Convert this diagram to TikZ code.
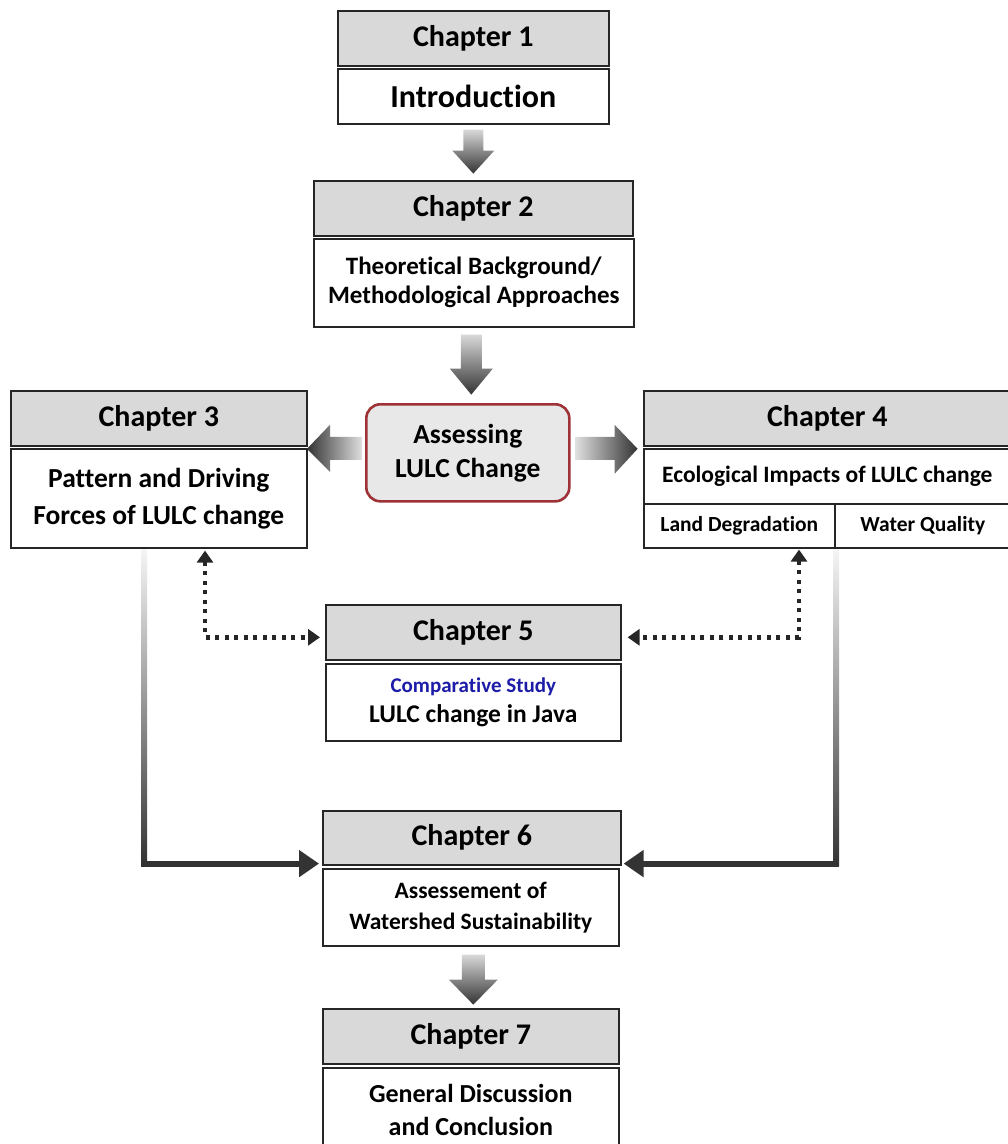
\documentclass[tikz,border=0pt]{standalone}
\usepackage{fontspec}
\setmainfont{Carlito}[Ligatures=NoCommon]
\usetikzlibrary{arrows.meta,calc}

\definecolor{headgray}{HTML}{D9D9D9}
\definecolor{framered}{HTML}{9E3236}
\definecolor{studyblue}{HTML}{1C1CA8}

\newcommand{\chapfont}{\bfseries\fontsize{30}{34}\selectfont}

\tikzset{
  head/.style={draw=black!85, line width=1.6pt, fill=headgray, anchor=north west, inner sep=0pt, font=\chapfont},
  body/.style={draw=black!85, line width=1.6pt, fill=white, anchor=north west, inner sep=0pt, align=center},
  downarrow/.style={top color=gray!30, bottom color=black!80, draw=none},
  dotline/.style={line width=4.5pt, black!85, dash pattern=on 4pt off 5.5pt, {Triangle[length=12pt,width=16pt]}-{Triangle[length=12pt,width=16pt]}},
  feedline/.style={line width=6pt, black!80, -{Triangle[length=20pt,width=26pt]}}
}

\begin{document}
\begin{tikzpicture}[x=1pt, y=-1pt]
    \useasboundingbox (0,0) rectangle (1008,1144);

    % chapter boxes
    \node[head, minimum width=271, minimum height=55] (ch1) at (337,10) {Chapter 1};
    \node[body, minimum width=271, minimum height=55, font=\bfseries\fontsize{32}{36}\selectfont] (intro) at (337,68) {Introduction};

    \node[head, minimum width=319, minimum height=55] (ch2) at (313,180) {Chapter 2};
    \node[body, minimum width=320, minimum height=88, font=\bfseries\fontsize{25}{29}\selectfont] (theory) at (313,238) {Theoretical Background/\\Methodological Approaches};

    \node[head, minimum width=296, minimum height=55] (ch3) at (10,390) {Chapter 3};
    \node[body, minimum width=296, minimum height=99, font=\bfseries\fontsize{27.5}{37}\selectfont] (pattern) at (10,448) {Pattern and Driving\\Forces of LULC change};

    \node[draw=framered, line width=2.6pt, fill=gray!18, rounded corners=14pt, anchor=north west, inner sep=0pt, align=center,
          minimum width=203, minimum height=97, font=\bfseries\fontsize{27.5}{34}\selectfont] (assess) at (365,403) {Assessing\\LULC Change};

    \node[head, minimum width=367, minimum height=55] (ch4) at (643,390) {Chapter 4};
    \node[body, minimum width=367, minimum height=55, font=\bfseries\fontsize{23.5}{26}\selectfont] (eco) at (643,448) {Ecological Impacts of LULC change};
    \node[body, minimum width=191, minimum height=44, font=\bfseries\fontsize{21.5}{24}\selectfont] (land) at (643,503) {Land Degradation};
    \node[body, minimum width=176, minimum height=44, font=\bfseries\fontsize{21.5}{24}\selectfont] (water) at (834,503) {Water Quality};

    \node[head, minimum width=295, minimum height=55] (ch5) at (325,604) {Chapter 5};
    \node[body, minimum width=295, minimum height=77, font=\bfseries\fontsize{25.5}{30}\selectfont] (java) at (325,663)
        {{\fontsize{21}{24}\selectfont\color{studyblue}Comparative Study}\\LULC change in Java};

    \node[head, minimum width=298, minimum height=54] (ch6) at (322,810) {Chapter 6};
    \node[body, minimum width=296, minimum height=77, font=\bfseries\fontsize{23.5}{31}\selectfont] (shed) at (322,868) {Assessement of\\Watershed Sustainability};

    \node[head, minimum width=296, minimum height=55] (ch7) at (322,1008) {Chapter 7};
    \node[body, minimum width=296, minimum height=84, font=\bfseries\fontsize{26}{33}\selectfont] (concl) at (322,1067) {General Discussion\\and Conclusion};

    % block arrows
    \shade[downarrow] ($(intro.south)+(-10,5)$) -- ++(20,0) -- ++(0,21) -- ++(11,0) -- ++(-21,23) -- ++(-21,-23) -- ++(11,0) -- cycle;
    \shade[downarrow] ($(theory.south)+(-13,7)$) -- ++(21,0) -- ++(0,34) -- ++(11,0) -- ++(-21.5,26) -- ++(-21.5,-26) -- ++(11,0) -- cycle;
    \shade[downarrow] ($(shed.south)+(-9,8)$) -- ++(23,0) -- ++(0,25) -- ++(13,0) -- ++(-24.5,25) -- ++(-24.5,-25) -- ++(13,0) -- cycle;
    \shade[left color=black!80, right color=gray!25] ($(assess.west)+(-3,-16)$) -- ++(-32,0) -- ++(0,-12) -- ++(-23,24) -- ++(23,23) -- ++(0,-12) -- ++(32,0) -- cycle;
    \shade[left color=gray!25, right color=black!80] ($(assess.east)+(5,-16)$) -- ++(39,0) -- ++(0,-12) -- ++(23,24) -- ++(-23,25) -- ++(0,-14) -- ++(-39,0) -- cycle;

    % dotted links to chapter 5
    \coordinate (d3) at ($(pattern.south west)+(195,2)$);
    \coordinate (d4) at ($(land.south west)+(156,1)$);
    \draw[dotline] (d3) |- ($(ch5.west)+(-5,5)$);
    \draw[dotline] (d4) |- ($(ch5.east)+(6,5)$);

    % feed lines to chapter 6
    \coordinate (l3) at ($(pattern.south west)+(134,1)$);
    \coordinate (l4) at ($(water.south west)+(2,1)$);
    \shade[top color=gray!8, bottom color=black!80] ($(l3)+(-3,0)$) rectangle ($(l3 |- ch6.south)+(3,0)$);
    \shade[top color=gray!8, bottom color=black!80] ($(l4)+(-3,0)$) rectangle ($(l4 |- ch6.south)+(3,0)$);
    \draw[feedline] ($(l3 |- ch6.south)+(-3,-2)$) -- ($(ch6.south west)+(-3,-2)$);
    \draw[feedline] ($(l4 |- ch6.south)+(3,-2)$) -- ($(ch6.south east)+(2,-2)$);

\end{tikzpicture}
\end{document}
